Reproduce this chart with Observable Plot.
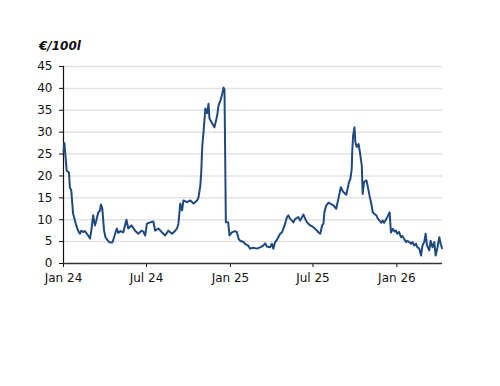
<!DOCTYPE html>
<html>
<head>
<meta charset="utf-8">
<script src="https://cdn.jsdelivr.net/npm/d3@7"></script>
<script src="https://cdn.jsdelivr.net/npm/@observablehq/plot@0.6"></script>
<style>
  html, body { margin: 0; padding: 0; background: #fff; }
  #wrap { position: relative; width: 500px; height: 386px; }
  #title { position: absolute; left: 39px; top: 40px; font: italic bold 12px "DejaVu Sans", sans-serif; line-height: 12px; color: #111; }
</style>
</head>
<body>
<div id="wrap"><div id="title">€/100l</div></div>
<script>
const dates = [
"2024-01-01","2024-01-03","2024-01-05","2024-01-08","2024-01-13","2024-01-15","2024-01-18","2024-01-22","2024-01-26","2024-01-29",
"2024-02-02","2024-02-06","2024-02-09","2024-02-13","2024-02-17","2024-02-24","2024-02-28",
"2024-03-02","2024-03-06","2024-03-10","2024-03-13","2024-03-17","2024-03-21","2024-03-23","2024-03-26","2024-03-30",
"2024-04-02","2024-04-09","2024-04-12","2024-04-17","2024-04-21","2024-04-24","2024-04-27","2024-04-30",
"2024-05-05","2024-05-11","2024-05-18","2024-05-22","2024-05-29",
"2024-06-06","2024-06-13","2024-06-20","2024-06-24","2024-06-28",
"2024-07-02","2024-07-09","2024-07-16","2024-07-20","2024-07-27",
"2024-08-04","2024-08-11","2024-08-18","2024-08-26",
"2024-09-02","2024-09-06","2024-09-09","2024-09-13","2024-09-17","2024-09-20","2024-09-28",
"2024-10-05","2024-10-12","2024-10-20","2024-10-23","2024-10-27","2024-10-29","2024-10-31",
"2024-11-01","2024-11-03","2024-11-07","2024-11-11","2024-11-14","2024-11-16","2024-11-22","2024-11-27",
"2024-12-03","2024-12-06","2024-12-10","2024-12-14","2024-12-17","2024-12-19","2024-12-22","2024-12-27","2024-12-30",
"2025-01-04","2025-01-11","2025-01-15","2025-01-19","2025-01-22","2025-01-30",
"2025-02-02","2025-02-09","2025-02-13","2025-02-20","2025-02-28",
"2025-03-07","2025-03-14","2025-03-18","2025-03-22","2025-03-29",
"2025-04-02","2025-04-05","2025-04-09","2025-04-13","2025-04-16","2025-04-20","2025-04-24","2025-04-27",
"2025-05-01","2025-05-05","2025-05-08","2025-05-12","2025-05-16","2025-05-19","2025-05-23","2025-05-30",
"2025-06-03","2025-06-07","2025-06-10","2025-06-14","2025-06-18","2025-06-25",
"2025-07-02","2025-07-10","2025-07-13","2025-07-17","2025-07-21","2025-07-24","2025-07-26","2025-07-30",
"2025-08-04","2025-08-09","2025-08-14","2025-08-21","2025-08-24","2025-08-28","2025-08-31",
"2025-09-05","2025-09-08","2025-09-12","2025-09-15","2025-09-18","2025-09-21","2025-09-24","2025-09-25","2025-09-27","2025-09-30",
"2025-10-02","2025-10-05","2025-10-09","2025-10-12","2025-10-16","2025-10-18","2025-10-21","2025-10-26","2025-10-28",
"2025-11-02","2025-11-06","2025-11-09","2025-11-13","2025-11-17","2025-11-20","2025-11-24","2025-11-28",
"2025-12-01","2025-12-04","2025-12-09","2025-12-11","2025-12-16","2025-12-19","2025-12-23","2025-12-27","2025-12-30",
"2026-01-02","2026-01-06","2026-01-10","2026-01-13","2026-01-17","2026-01-21","2026-01-24","2026-01-28",
"2026-02-01","2026-02-04","2026-02-08","2026-02-12","2026-02-15","2026-02-19","2026-02-23","2026-02-26",
"2026-03-02","2026-03-05","2026-03-08","2026-03-13","2026-03-16","2026-03-20","2026-03-24","2026-03-27","2026-03-31",
"2026-04-04","2026-04-07","2026-04-10"
];
const values = [
25.5,27.5,25,21.2,20.8,17.4,16.7,11.4,9.8,8.7,
7.5,6.8,7.5,7.2,7.4,6.4,5.7,
7.5,11,8.7,9.8,11.6,12.1,13.5,12.6,7.5,
6,5,4.8,4.8,6,7.1,8,7,
7.4,7.1,10,8,8.7,
7.5,6.8,7.5,7.3,6.4,
9.1,9.4,9.6,7.5,8,
7.1,6.4,7.5,6.8,
7.5,8,9.1,13.7,12.1,14.4,14,
14.4,13.7,14.4,15.1,17.8,20.8,26.3,
27.7,30,35.4,34.3,36.5,33.1,32,31.1,
33.8,36.1,37.2,38.8,40.2,39.7,9.4,9.4,6.4,
7.1,7.4,7.2,5.6,5.2,4.9,
4.5,4.1,3.4,3.6,3.4,
3.7,4.1,4.6,3.9,3.7,
4.5,3.4,4.9,5.4,6,6.8,7.1,7.9,
9.1,10.6,11,10.2,9.8,9.4,10.2,10.6,
9.8,10.6,11.2,10.2,9.4,8.7,
8.3,7.5,7.1,6.8,8.7,9.1,11.7,13.2,
13.9,13.6,13.4,12.5,14,15.9,17.4,
16.4,16.1,15.7,17.1,18.6,19.3,21.6,25.4,29.2,31.1,
27.7,26.6,27.3,25.4,22.4,15.9,18.6,19,18.2,
15.5,13.6,11.7,11.3,11,10.3,9.8,9.3,
9.8,9.3,10.2,10.6,11.7,7.1,7.9,7.3,7.5,
6.8,7.2,6,6.3,5.6,4.9,5.2,4.9,
4.5,4.9,4.1,4.5,3.7,3.4,1.8,4.1,
4.9,6.8,4.1,3,5.2,3.7,4.9,1.8,3.7,
6,4.5,3.5
];
const yTicks = [0,5,10,15,20,25,30,35,40,45];
const xTickLabels = ["2024-01-01","2024-07-01","2025-01-01","2025-07-01","2026-01-01"];
const xDomain = ["2024-01-01","2026-04-11"];

const data = dates.map((d, i) => ({date: new Date(d), value: values[i]}));
const xTicks = xTickLabels.map(d => new Date(d));

const chart = Plot.plot({
  width: 500,
  height: 386,
  marginLeft: 63,
  marginRight: 58,
  marginTop: 66,
  marginBottom: 123,
  style: {fontFamily: "'DejaVu Sans', sans-serif", fontSize: "12px", color: "#111", background: "#fff", overflow: "visible"},
  x: {type: "utc", domain: xDomain.map(d => new Date(d))},
  y: {domain: [0, 45]},
  marks: [
    Plot.ruleY(yTicks.filter(d => d > 0), {stroke: "#e2e2e2", strokeWidth: 1.5}),
    Plot.axisY({ticks: yTicks, tickSize: 4, tickPadding: 7, label: null}),
    Plot.axisX({ticks: xTicks, tickFormat: d3.utcFormat("%b %y"), tickSize: 4, tickPadding: 6, label: null}),
    Plot.ruleX([new Date(xDomain[0])], {stroke: "#111", strokeWidth: 1.2}),
    Plot.ruleY([0], {stroke: "#333", strokeWidth: 1.5}),
    Plot.line(data, {x: "date", y: "value", stroke: "#1f4a80", strokeWidth: 2})
  ]
});
document.getElementById("wrap").appendChild(chart);
</script>
</body>
</html>
